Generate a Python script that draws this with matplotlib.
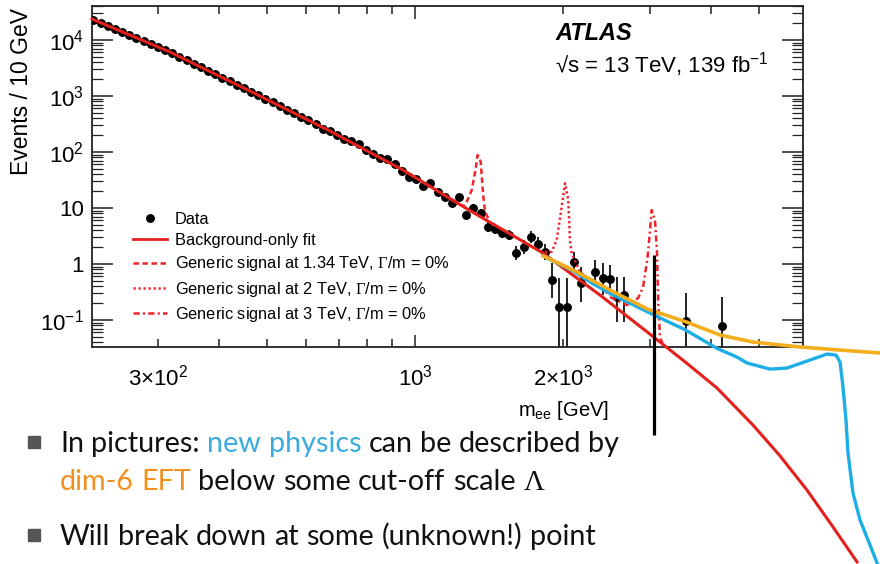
import matplotlib
matplotlib.use("Agg")
import matplotlib.pyplot as plt
from matplotlib.patches import Rectangle
from matplotlib.lines import Line2D

plt.rcParams['font.family'] = ['Liberation Sans', 'DejaVu Sans']
plt.rcParams['mathtext.fontset'] = 'custom'
plt.rcParams['mathtext.rm'] = 'Liberation Sans'
plt.rcParams['mathtext.it'] = 'Liberation Sans:italic'
plt.rcParams['mathtext.bf'] = 'Liberation Sans:bold'
plt.rcParams['mathtext.tt'] = 'Liberation Serif'

# ---------------- data ----------------
data_mass = [222.0, 229.6, 237.4, 245.5, 253.9, 262.6, 271.5, 280.8, 290.4, 300.3,
             310.5, 321.1, 332.1, 343.4, 355.1, 367.2, 379.8, 392.7, 406.1, 420.0,
             434.3, 449.1, 464.5, 480.3, 496.7, 513.7, 531.2, 549.3, 568.1, 587.5,
             607.5, 628.2, 649.7, 671.9, 694.8, 718.5, 743.0, 768.4, 794.6, 821.7,
             849.8, 878.8, 908.8, 939.8, 971.8, 1005.0, 1039.3, 1074.8, 1111.5, 1149.4,
             1188.6, 1229.2, 1271.1, 1314.5, 1359.4, 1405.8, 1453.8, 1503.4, 1554.7, 1607.8,
             1662.7, 1719.4, 1778.1, 1838.8, 1901.6, 1966.5, 2033.6, 2103.0, 2174.8, 2326.0,
             2405.4, 2487.5, 2572.4, 2660.2, 3550.0, 4202.0]
data_events = [23100, 20460, 18070, 15920, 14070, 12440, 10940, 9680, 8550, 7560,
               6650, 5840, 5060, 4380, 3790, 3280, 2840, 2460, 2130, 1850,
               1600, 1384, 1200, 1033, 895, 773, 666, 574, 495, 427,
               368, 319, 255, 237, 203, 173, 157, 140, 108, 92.5,
               78.7, 74.0, 62.0, 46.4, 36.2, 33.0, 25.0, 27.6, 19.5, 15.9,
               12.4, 15.9, 7.6, 9.9, 8.2, 4.5, 4.17, 3.62, 3.30, 1.59,
               1.99, 3.08, 2.25, 1.66, 0.518, 0.169, 0.169, 1.10, 0.463, 0.711,
               0.556, 0.540, 0.261, 0.28, 0.097, 0.079]
# error-bar ends for the last points (aligned with the tail of data_mass)
bar_low = [18.0, 14.6, 11.0, 14.1, 6.45, 8.4, 6.95, 3.66, 3.40, 2.95, 2.69, 1.19,
           1.49, 2.41, 1.68, 1.2, 0.247, 0.001, 0.001, 0.69, 0.21, 0.42,
           0.279, 0.279, 0.092, 0.092, 0.001, 0.001]
bar_high = [21.2, 17.3, 14.0, 18.0, 8.96, 11.7, 9.67, 5.53, 5.12, 4.45, 4.05, 2.12,
            2.65, 3.94, 3.0, 2.25, 1.04, 0.56, 0.56, 1.64, 0.88, 1.18,
            1.04, 0.96, 0.586, 0.59, 0.303, 0.26]

fit_mass = [220.6, 317.7, 461.9, 671.8, 945.5, 1293, 1820, 2377, 3074, 3566, 4110, 4864,
            5500, 6262, 7000, 7914]
fit_events = [23700, 6110, 1228, 237, 47.7, 9.0, 1.57, 0.279, 0.0477, 0.0170, 0.0061,
              0.00133, 3.9e-4, 9.2e-5, 2.3e-5, 4.8e-6]

sig1_mass = [1234.6, 1263.5, 1304, 1324, 1341, 1360, 1367, 1377, 1388, 1420]
sig1_events = [11.3, 10.9, 20.9, 42.2, 88.4, 67.1, 36.2, 15.9, 8.6, 5.6]
sig2_mass = [1837, 1896, 1941, 1987, 2018, 2049, 2065, 2082, 2165, 2490]
sig2_events = [1.64, 1.65, 2.68, 10.5, 27.6, 13.9, 2.68, 1.55, 0.72, 0.279]
sig3_mass = [2490, 2694, 2841, 2908, 2958, 2976, 3028, 3074, 3103, 3122, 3147, 3192]
sig3_events = [0.258, 0.185, 0.247, 0.388, 1.04, 1.57, 9.2, 6.1, 1.78, 0.2, 0.0497, 0.0358]

eft_mass = [1823, 2097, 2529, 2980, 3566, 4169, 4864, 6060, 7308, 8812]
eft_events = [1.39, 0.782, 0.320, 0.155, 0.092, 0.054, 0.0405, 0.033, 0.0291, 0.0258]

np_mass = [1823, 2097, 2304, 2529, 3060, 3549, 4105, 4513, 4729, 5265, 5703, 6262, 6877,
           7173, 7308, 7411, 7516, 7587, 7767, 8025, 8410, 8690]
np_events = [1.39, 0.75, 0.44, 0.279, 0.123, 0.0663, 0.0313, 0.0218, 0.0171, 0.0133, 0.0139,
             0.0185, 0.0247, 0.0237, 0.0178, 0.00637, 0.00164, 4.2e-4, 8.1e-5, 2.7e-5,
             9.6e-6, 4.6e-6]

cutoff_mass = 3060
cutoff_top = 1.45
cutoff_bottom = 8.8e-4

legend_labels = ["Data", "Background-only fit",
                 "Generic signal at 1.34 TeV, $\\mathtt{\\Gamma}$/m = 0%",
                 "Generic signal at 2 TeV, $\\mathtt{\\Gamma}$/m = 0%",
                 "Generic signal at 3 TeV, $\\mathtt{\\Gamma}$/m = 0%"]
x_major = [1000]
x_major_labels = ["$10^{3}$"]
x_minor = [300, 400, 500, 600, 700, 800, 900, 2000, 3000, 4000, 5000]
x_minor_labels = ["$3{\\times}10^{2}$", "", "", "", "", "", "", "$2{\\times}10^{3}$", "", "", ""]
y_major = [0.1, 1, 10, 100, 1000, 10000]
y_major_labels = ["$10^{-1}$", "1", "10", "$10^{2}$", "$10^{3}$", "$10^{4}$"]

# ---------------- figure ----------------
W, H = 880, 564
fig = plt.figure(figsize=(W / 100, H / 100), dpi=100)
fig.patch.set_facecolor("white")


def fx(px):
    return px / W


def fy(py):
    return 1 - py / H


ax = fig.add_axes([fx(92), fy(347), fx(803) - fx(92), fy(6) - fy(347)])
ax.set_xscale("log")
ax.set_yscale("log")
ax.set_xlim(220.6, 6146)
ax.set_ylim(0.033, 40460)

RED = "#e4201c"
SIGRED = "#f0222a"
ORANGE = "#f2ae1c"
BLUE = "#1eaee6"

# data with error bars
n_tail = len(bar_low)
tail_mass = data_mass[-n_tail:]
tail_ev = data_events[-n_tail:]
ylo = [v - lo for v, lo in zip(tail_ev, bar_low)]
yhi = [hi - v for v, hi in zip(tail_ev, bar_high)]
ax.errorbar(tail_mass, tail_ev, yerr=[ylo, yhi], fmt="none", ecolor="#222222",
            elinewidth=1.4, capsize=0, zorder=3)
ax.plot(data_mass, data_events, "o", color="black", markersize=5.4, zorder=4)

# fit line (continues beyond the frame)
ax.plot(fit_mass, fit_events, color=RED, lw=2.2, zorder=5, clip_on=False)
# signals
ax.plot(sig1_mass, sig1_events, color=SIGRED, lw=1.8, ls=(0, (2.2, 1.4)), zorder=5)
ax.plot(sig2_mass, sig2_events, color=SIGRED, lw=1.8, ls=(0, (0.9, 1.1)), zorder=5)
ax.plot(sig3_mass, sig3_events, color=SIGRED, lw=1.8, ls=(0, (2.5, 1.3, 0.8, 1.3)), zorder=5)

# EFT / new physics overlays
ax.plot(np_mass, np_events, color=BLUE, lw=2.4, zorder=6, clip_on=False)
ax.plot(eft_mass, eft_events, color=ORANGE, lw=2.6, zorder=7, clip_on=False)
ax.plot([cutoff_mass, cutoff_mass], [cutoff_top, cutoff_bottom], color="black", lw=2.3,
        zorder=8, clip_on=False, solid_capstyle="butt")

# axes style (ROOT-like)
for s in ax.spines.values():
    s.set_linewidth(1.3)
    s.set_color("#222222")
ax.set_xticks(x_major, labels=x_major_labels)
ax.set_xticks(x_minor, labels=x_minor_labels, minor=True)
ax.set_yticks(y_major, labels=y_major_labels)
ax.tick_params(which="both", direction="in", top=True, right=True, colors="#222222",
               labelcolor="black")
ax.tick_params(axis="x", which="major", length=9, width=1.1, pad=13, labelsize=16)
ax.tick_params(axis="x", which="minor", length=5.5, width=1.1, pad=13, labelsize=16)
ax.tick_params(axis="y", which="major", length=15, width=1.1, pad=6, labelsize=16)
ax.tick_params(axis="y", which="minor", length=8, width=0.9)

# legend
handles = [Line2D([], [], ls="none", marker="o", color="black", markersize=5.4),
           Line2D([], [], color=RED, lw=2.0),
           Line2D([], [], color=SIGRED, lw=1.8, ls=(0, (2.2, 1.4))),
           Line2D([], [], color=SIGRED, lw=1.8, ls=(0, (0.9, 1.1))),
           Line2D([], [], color=SIGRED, lw=1.8, ls=(0, (2.5, 1.3, 0.8, 1.3)))]
ax.legend(handles, legend_labels, loc="upper left", bbox_to_anchor=(fx(133), fy(212)),
          bbox_transform=fig.transFigure, frameon=False, fontsize=11.8, borderpad=0,
          borderaxespad=0, handlelength=2.1, handletextpad=0.45, labelspacing=0.38)

# ATLAS labels
fig.text(fx(555), fy(40), "ATLAS", fontsize=17, fontweight="bold", fontstyle="italic",
         va="baseline")
fig.text(fx(555), fy(73), "\u221as = 13 TeV, 139 fb$^{-1}$", fontsize=16, va="baseline")

# axis titles
fig.text(fx(22), fy(8), "Events / 10 GeV", rotation=90, fontsize=16.5, ha="center", va="top")
fig.text(fx(518), fy(416), "m$_{\\rm ee}$ [GeV]", fontsize=14.5, va="baseline")

# slide bullet text
renderer = fig.canvas.get_renderer()
BFONT = ["Lato", "DejaVu Sans"]
BSIZE = 20.7


def text_width(s, size):
    t = fig.text(0, 0, s, fontsize=size, family=BFONT)
    w = t.get_window_extent(renderer=renderer).width
    t.remove()
    return w


space_w = text_width("a a", BSIZE) - text_width("aa", BSIZE)


def draw_line(x, y, segments):
    for txt, col in segments:
        words = txt.split(" ")
        for j, wd in enumerate(words):
            if wd:
                t = fig.text(fx(x), fy(y), wd, fontsize=BSIZE, family=BFONT, color=col,
                             va="baseline")
                x += t.get_window_extent(renderer=renderer).width
            if j < len(words) - 1:
                x += space_w


BLACK = "#111111"
TBLUE = "#3aaae0"
TORANGE = "#f0901e"
draw_line(60, 452, [("In pictures: ", BLACK), ("new physics", TBLUE),
                    (" can be described by", BLACK)])
draw_line(60, 490, [("dim-6 EFT", TORANGE), (" below some cut-off scale ", BLACK),
                    ("$\\mathtt{\\Lambda}$", BLACK)])
draw_line(60, 545, [("Will break down at some (unknown!) point", BLACK)])
for yb in (436, 529):
    fig.patches.append(Rectangle((fx(28), fy(yb + 12)), fx(12), 12 / H,
                                 transform=fig.transFigure, color="#555555", zorder=10))

fig.savefig("out.png", dpi=100)
